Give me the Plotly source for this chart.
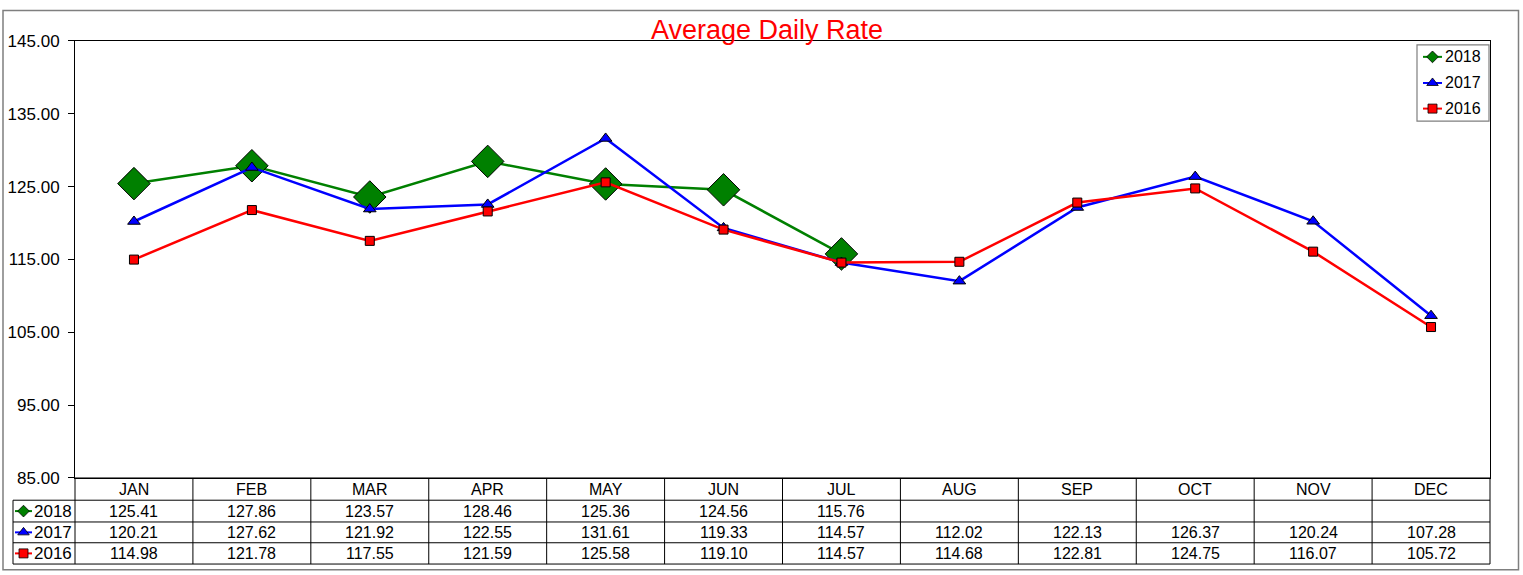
import plotly.graph_objects as go

W, H = 1523, 575

months = ["JAN", "FEB", "MAR", "APR", "MAY", "JUN", "JUL", "AUG", "SEP", "OCT", "NOV", "DEC"]
adr_2018 = [125.41, 127.86, 123.57, 128.46, 125.36, 124.56, 115.76, None, None, None, None, None]
adr_2017 = [120.21, 127.62, 121.92, 122.55, 131.61, 119.33, 114.57, 112.02, 122.13, 126.37, 120.24, 107.28]
adr_2016 = [114.98, 121.78, 117.55, 121.59, 125.58, 119.10, 114.57, 114.68, 122.81, 124.75, 116.07, 105.72]
y_ticks = [85, 95, 105, 115, 125, 135, 145]

FONT = "Arial, Liberation Sans, sans-serif"

# plot area in pixels
PL, PR, PT, PB = 75, 1490, 33, 485
# table rows (pixel y boundaries)
ROWS = [485, 508, 530.5, 552, 574]
TL = 13  # table legend column left


def px(x):
    return x / W


def py(y):
    return 1 - y / H


series = [
    dict(name="2018", y=adr_2018, color="#008000", symbol="diamond", size=25, lsize=9),
    dict(name="2017", y=adr_2017, color="#0000FF", symbol="triangle-up", size=11, lsize=10),
    dict(name="2016", y=adr_2016, color="#FF0000", symbol="square", size=9, lsize=9),
]

fig = go.Figure()
xs = list(range(len(months)))
for s in series:
    fig.add_trace(go.Scatter(
        x=xs, y=s["y"], name=s["name"], mode="lines+markers",
        line=dict(color=s["color"], width=2.5),
        marker=dict(symbol=s["symbol"], size=s["size"], color=s["color"],
                    line=dict(color="#000000", width=1)),
        showlegend=False, cliponaxis=False,
        xaxis="x", yaxis="y",
    ))

shapes = []
annotations = []

# outer chart border
shapes.append(dict(type="rect", xref="paper", yref="paper",
                   x0=px(3), x1=px(1518.5), y0=py(580), y1=py(1.5),
                   line=dict(color="#7f7f7f", width=1.5), layer="below"))

# table grid
colw = (PR - PL) / len(months)
line_style = dict(color="#000000", width=1)
for i, yv in enumerate(ROWS):
    x0 = PL if i == 0 else TL
    shapes.append(dict(type="line", xref="paper", yref="paper",
                       x0=px(x0), x1=px(PR), y0=py(yv), y1=py(yv), line=line_style))
for k in range(len(months) + 1):
    xv = PL + k * colw
    shapes.append(dict(type="line", xref="paper", yref="paper",
                       x0=px(xv), x1=px(xv), y0=py(ROWS[0]), y1=py(ROWS[-1]), line=line_style))
shapes.append(dict(type="line", xref="paper", yref="paper",
                   x0=px(TL), x1=px(TL), y0=py(ROWS[1]), y1=py(ROWS[-1]), line=line_style))

# header row: month labels
for k, m in enumerate(months):
    annotations.append(dict(x=k, xref="x", y=py((ROWS[0] + ROWS[1]) / 2), yref="paper",
                            text=m, showarrow=False, font=dict(family=FONT, size=16, color="#000000"),
                            xanchor="center", yanchor="middle"))

# value rows
for r, s in enumerate(series):
    yc = (ROWS[r + 1] + ROWS[r + 2]) / 2
    for k, v in enumerate(s["y"]):
        if v is None:
            continue
        annotations.append(dict(x=k, xref="x", y=py(yc), yref="paper",
                                text=f"{v:.2f}", showarrow=False,
                                font=dict(family=FONT, size=16, color="#000000"),
                                xanchor="center", yanchor="middle"))
    # row label
    annotations.append(dict(x=px(32), xref="paper", y=py(yc), yref="paper",
                            text=s["name"], showarrow=False,
                            font=dict(family=FONT, size=17, color="#000000"),
                            xanchor="left", yanchor="middle"))
    # icon in table legend column (overlay pixel axes)
    fig.add_trace(go.Scatter(
        x=[15, 23.5, 32], y=[yc, yc, yc], mode="lines",
        line=dict(color=s["color"], width=2), showlegend=False, hoverinfo="skip",
        xaxis="x2", yaxis="y2"))
    fig.add_trace(go.Scatter(
        x=[23.5], y=[yc], mode="markers",
        marker=dict(symbol=s["symbol"], size=s["lsize"], color=s["color"],
                    line=dict(color="#000000", width=0.8)),
        showlegend=False, hoverinfo="skip", xaxis="x2", yaxis="y2"))

# chart legend box (top right)
shapes.append(dict(type="rect", xref="paper", yref="paper",
                   x0=px(1417), x1=px(1489), y0=py(116), y1=py(37),
                   line=dict(color="#7f7f7f", width=1.2), fillcolor="rgba(0,0,0,0)", layer="above"))
leg_y = [49.5, 76.5, 103]
for s, yc in zip(series, leg_y):
    fig.add_trace(go.Scatter(
        x=[1423, 1442], y=[yc, yc], mode="lines",
        line=dict(color=s["color"], width=2), showlegend=False, hoverinfo="skip",
        xaxis="x2", yaxis="y2"))
    fig.add_trace(go.Scatter(
        x=[1432.5], y=[yc], mode="markers",
        marker=dict(symbol=s["symbol"], size=s["lsize"], color=s["color"],
                    line=dict(color="#000000", width=0.8)),
        showlegend=False, hoverinfo="skip", xaxis="x2", yaxis="y2"))
    annotations.append(dict(x=px(1443), xref="paper", y=py(yc), yref="paper",
                            text=s["name"], showarrow=False,
                            font=dict(family=FONT, size=16, color="#000000"),
                            xanchor="left", yanchor="middle"))

# title
annotations.append(dict(x=px(767), xref="paper", y=py(22), yref="paper",
                        text="Average Daily Rate", showarrow=False,
                        font=dict(family=FONT, size=27, color="#FF0000"),
                        xanchor="center", yanchor="middle"))

fig.update_layout(
    width=W, height=H,
    margin=dict(l=0, r=0, t=0, b=0, pad=0),
    paper_bgcolor="#ffffff", plot_bgcolor="rgba(0,0,0,0)",
    font=dict(family=FONT, size=16, color="#000000"),
    showlegend=False,
    xaxis=dict(domain=[px(PL), px(PR)], range=[-0.5, len(months) - 0.5],
               showticklabels=False, ticks="", showgrid=False, zeroline=False,
               showline=True, linecolor="#000000", linewidth=1, mirror=True,
               fixedrange=True),
    yaxis=dict(domain=[py(PB), py(PT)], range=[85, 145], tickvals=y_ticks,
               tickformat=".2f", ticks="outside", ticklen=6, tickcolor="#000000",
               ticklabelstandoff=5,
               tickfont=dict(family=FONT, size=17, color="#000000"),
               showgrid=False, zeroline=False,
               showline=True, linecolor="#000000", linewidth=1, mirror=True,
               fixedrange=True),
    xaxis2=dict(domain=[0, 1], range=[0, W], anchor="y2", visible=False, fixedrange=True),
    yaxis2=dict(domain=[0, 1], range=[H, 0], anchor="x2", visible=False, fixedrange=True),
    shapes=shapes,
    annotations=annotations,
)

fig.write_html(
    "out.html",
    config={"displayModeBar": False},
    post_script="document.body.style.margin='0';document.body.style.overflow='hidden';",
)
